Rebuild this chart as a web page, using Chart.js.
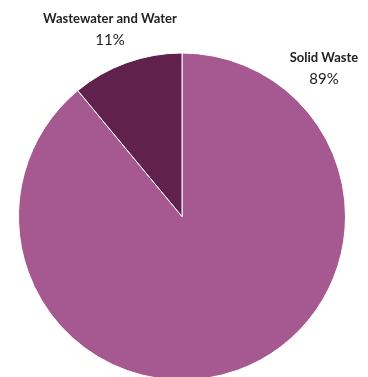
<!DOCTYPE html>
<html>
<head>
<meta charset="utf-8">
<script src="https://cdn.jsdelivr.net/npm/chart.js@4"></script>
<style>
  html, body { margin: 0; padding: 0; background: #fff; overflow: hidden; }
  #wrap { position: relative; width: 368px; height: 381px; }
</style>
</head>
<body>
<div id="wrap"><canvas id="myChart"></canvas></div>
<script>
  const categories = ["Solid Waste", "Wastewater and Water"];
  const shares = [89, 11];
  const percentLabels = ["89%", "11%"];
  const sliceColors = ["#a65891", "#60224d"];

  // where each label block sits (center x, baseline of name line)
  const labelSpots = [
    { x: 324, y: 62 },
    { x: 110, y: 23 },
  ];

  const sliceLabels = {
    id: "sliceLabels",
    afterDraw(chart) {
      const ctx = chart.ctx;
      ctx.save();
      ctx.textAlign = "center";
      ctx.textBaseline = "alphabetic";
      ctx.fillStyle = "#222";
      chart.data.labels.forEach((name, i) => {
        const spot = labelSpots[i];
        ctx.font = "bold 13px Lato";
        ctx.fillText(name, spot.x, spot.y);
        ctx.font = "15px Lato";
        ctx.fillText(percentLabels[i], spot.x, spot.y + 22);
      });
      ctx.restore();
    },
  };

  const data = {
    labels: categories,
    datasets: [
      {
        data: shares,
        backgroundColor: sliceColors,
        borderColor: "#fff",
        borderWidth: 1,
      },
    ],
  };

  const config = {
    type: "pie",
    data,
    options: {
      responsive: true,
      maintainAspectRatio: false,
      animation: false,
      layout: {
        padding: { left: 18, right: 22, top: 52, bottom: 0 },
      },
      plugins: {
        legend: { display: false },
        tooltip: { enabled: false },
      },
    },
    plugins: [sliceLabels],
  };

  var myChart = new Chart(document.getElementById("myChart"), config);
</script>
</body>
</html>
